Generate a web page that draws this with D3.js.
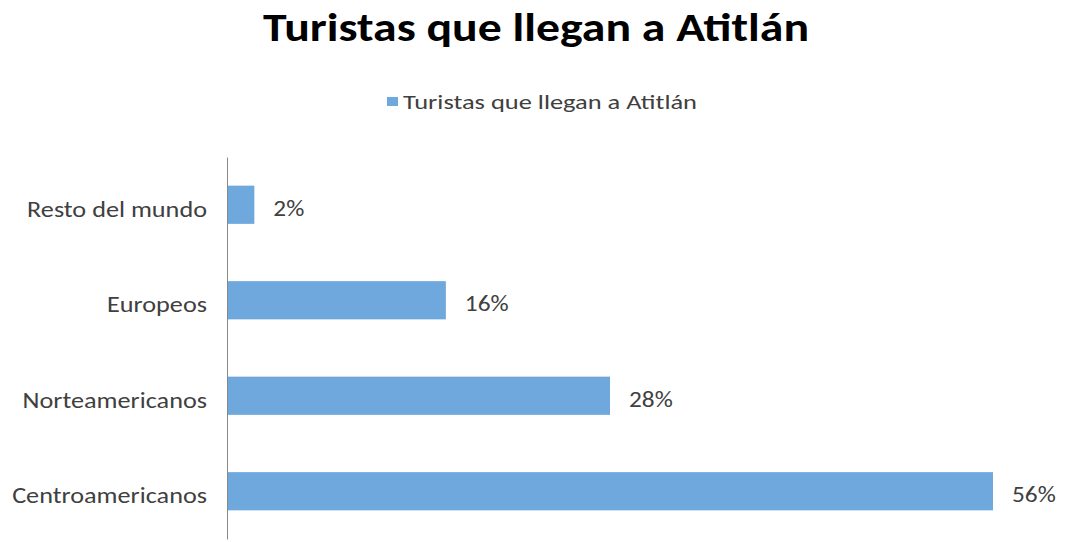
<!DOCTYPE html>
<html>
<head>
<meta charset="utf-8">
<script src="https://cdn.jsdelivr.net/npm/d3@7"></script>
<style>
  html, body { margin: 0; padding: 0; background: #fff; }
  svg { display: block; }
  text { font-family: Carlito, Lato, "Open Sans", sans-serif; }
</style>
</head>
<body>
<svg id="chart" width="1067" height="542"></svg>
<script>
const title = "Turistas que llegan a Atitlán";
const seriesName = "Turistas que llegan a Atitlán";
const categories = ["Resto del mundo", "Europeos", "Norteamericanos", "Centroamericanos"];
const values = [2, 16, 28, 56];
const barColor = "#6FA8DC";

const svg = d3.select("#chart");
const W = 1067, H = 542;
svg.append("rect").attr("width", W).attr("height", H).attr("fill", "#fff");

const x = d3.scaleLinear().domain([0, 56]).range([227, 993]);
const y = d3.scaleBand().domain(categories).range([157, 539])
  .paddingInner(0.6).paddingOuter(0.3).align(0.5);

// horizontally widen text (reference font is wider than available fonts)
function widen(sel, f) {
  sel.each(function () {
    const w = this.getComputedTextLength();
    d3.select(this).attr("textLength", w * f).attr("lengthAdjust", "spacingAndGlyphs");
  });
}

// Title
svg.append("text")
  .attr("x", 536).attr("y", 41)
  .attr("text-anchor", "middle")
  .attr("font-size", 40).attr("font-weight", "bold")
  .attr("fill", "#000")
  .attr("textLength", 546).attr("lengthAdjust", "spacingAndGlyphs")
  .text(title);

// Legend
svg.append("rect").attr("x", 387).attr("y", 97).attr("width", 11).attr("height", 9).attr("fill", barColor);
svg.append("text")
  .attr("x", 403).attr("y", 109)
  .attr("font-size", 21).attr("fill", "#404040")
  .attr("textLength", 294).attr("lengthAdjust", "spacingAndGlyphs")
  .text(seriesName);

// Bars
svg.selectAll("rect.bar").data(categories).enter().append("rect")
  .attr("class", "bar")
  .attr("x", x(0))
  .attr("y", d => y(d))
  .attr("width", (d, i) => x(values[i]) - x(0))
  .attr("height", y.bandwidth())
  .attr("fill", barColor);

// Value labels
const vals = svg.selectAll("text.val").data(categories).enter().append("text")
  .attr("class", "val")
  .attr("x", (d, i) => x(values[i]) + 19)
  .attr("y", d => y(d) + y.bandwidth() / 2 + 11)
  .attr("font-size", 23).attr("fill", "#404040")
  .text((d, i) => values[i] + "%");
widen(vals, 1.1);

// Axis
const yAxis = d3.axisLeft(y).tickSize(0).tickPadding(20);
const g = svg.append("g").attr("transform", `translate(${x(0)},0)`).call(yAxis);
g.select(".domain").attr("stroke", "#888").attr("stroke-width", 1);
const tl = g.selectAll("text")
  .attr("font-size", 23).attr("fill", "#404040")
  .attr("dy", null).attr("y", 12)
  .style("font-family", "Carlito, Lato, 'Open Sans', sans-serif");
widen(tl, 1.14);
</script>
</body>
</html>
